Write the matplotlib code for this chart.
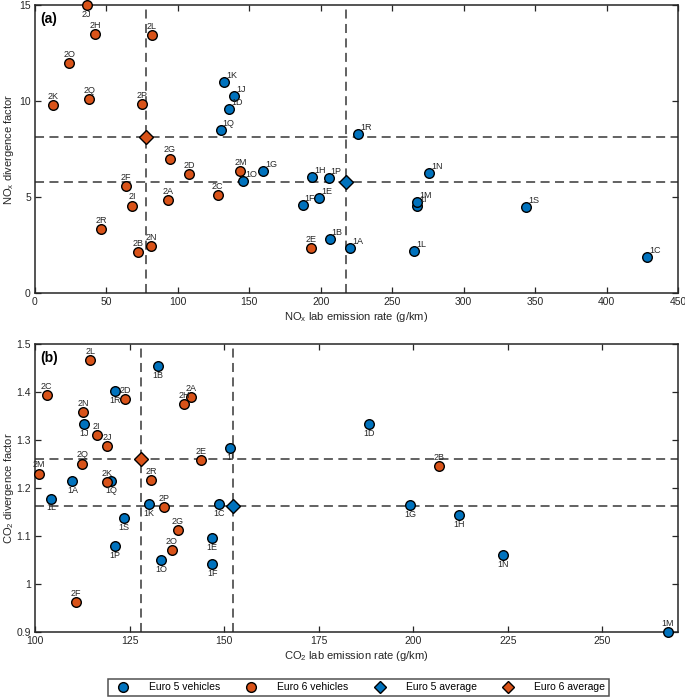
import matplotlib
matplotlib.use("Agg")
import matplotlib.pyplot as plt
from matplotlib.lines import Line2D
from matplotlib.ticker import FuncFormatter

plt.rcParams["font.family"] = ["Liberation Sans", "DejaVu Sans"]
plt.rcParams["mathtext.fontset"] = "custom"
plt.rcParams["mathtext.rm"] = "Liberation Sans"
plt.rcParams["mathtext.it"] = "Liberation Sans:italic"

# ------------------ DATA ------------------

euro5_ids = ["1A", "1B", "1C", "1D", "1E", "1F", "1G", "1H", "1I", "1J",
             "1K", "1L", "1M", "1N", "1O", "1P", "1Q", "1R", "1S"]
euro6_ids = ["2A", "2B", "2C", "2D", "2E", "2F", "2G", "2H", "2I", "2J",
             "2K", "2L", "2M", "2N", "2O", "2P", "2Q", "2R"]

# panel (a): NOx lab emission rate (g/km) and divergence factor
nox_rate_e5 = [220.7, 206.2, 428.3, 136.0, 199.0, 187.3, 159.8, 194.1, 267.6, 139.3,
               132.3, 265.5, 267.6, 276.0, 145.9, 205.5, 129.9, 226.0, 343.6]
nox_div_e5 = [2.34, 2.81, 1.89, 9.60, 4.95, 4.58, 6.37, 6.04, 4.53, 10.28,
              11.01, 2.20, 4.76, 6.23, 5.81, 5.97, 8.47, 8.30, 4.50]
nox_rate_e6 = [93.1, 72.3, 127.8, 107.8, 192.9, 63.5, 94.5, 42.0, 67.9, 36.2,
               12.4, 81.6, 143.7, 81.4, 23.8, 74.7, 38.0, 46.2]
nox_div_e6 = [4.84, 2.14, 5.10, 6.18, 2.32, 5.55, 7.00, 13.47, 4.55, 15.0,
              9.77, 13.42, 6.35, 2.46, 11.98, 9.86, 10.09, 3.35]
nox_avg_e5 = (217.4, 5.80)
nox_avg_e6 = (77.4, 8.14)

# panel (b): CO2 lab emission rate (g/km) and divergence factor
co2_rate_e5 = [109.9, 132.5, 148.7, 188.3, 146.8, 146.9, 199.2, 212.2, 151.5, 113.0,
               130.2, 104.2, 267.3, 223.8, 133.4, 121.2, 120.1, 121.1, 123.5]
co2_div_e5 = [1.215, 1.454, 1.166, 1.334, 1.095, 1.041, 1.164, 1.144, 1.283, 1.334,
              1.167, 1.178, 0.899, 1.061, 1.049, 1.079, 1.215, 1.402, 1.137]
co2_rate_e6 = [141.3, 206.8, 103.1, 123.8, 143.8, 110.9, 137.8, 139.5, 116.3, 119.1,
               119.1, 114.6, 101.1, 112.8, 136.1, 134.1, 112.5, 130.8]
co2_div_e6 = [1.389, 1.246, 1.393, 1.385, 1.258, 0.962, 1.113, 1.374, 1.310, 1.288,
              1.2125, 1.466, 1.230, 1.358, 1.070, 1.160, 1.251, 1.216]
co2_avg_e5 = (152.4, 1.163)
co2_avg_e6 = (127.9, 1.260)

nox_xticks = [0, 50, 100, 150, 200, 250, 300, 350, 400, 450]
nox_yticks = [0, 5, 10, 15]
co2_xticks = [100, 125, 150, 175, 200, 225, 250]
co2_yticks = [0.9, 1.0, 1.1, 1.2, 1.3, 1.4, 1.5]

blue = "#0072BD"
orange = "#D95319"
grey = "#262626"


def draw_panel(ax, x5, y5, x6, y6, avg5, avg6, lab5_off, lab6_off, special=None):
    special = special or {}
    for v in (avg5, avg6):
        ax.axvline(v[0], color="#555555", lw=1.3, ls=(0, (5, 3)), zorder=1)
        ax.axhline(v[1], color="#555555", lw=1.3, ls=(0, (5, 3)), zorder=1)

    ax.scatter(x5, y5, s=48, c=blue, edgecolors="black", linewidths=1.0,
               zorder=3, clip_on=False)
    ax.scatter(x6, y6, s=48, c=orange, edgecolors="black", linewidths=1.0,
               zorder=3, clip_on=False)
    ax.plot(avg5[0], avg5[1], marker="D", ms=7, mfc=blue, mec="black",
            mew=1.0, zorder=4, clip_on=False)
    ax.plot(avg6[0], avg6[1], marker="D", ms=7, mfc=orange, mec="black",
            mew=1.0, zorder=4, clip_on=False)

    for ids, xs, ys, off in ((euro5_ids, x5, y5, lab5_off), (euro6_ids, x6, y6, lab6_off)):
        for name, xv, yv in zip(ids, xs, ys):
            dx, dy, ha, va = special.get(name, off)
            ax.annotate(name, (xv, yv), xytext=(dx, dy), textcoords="offset points",
                        ha=ha, va=va, fontsize=6.5, color=grey, zorder=5,
                        annotation_clip=False)

    ax.tick_params(direction="in", top=True, right=True, length=4, width=0.9,
                   labelsize=7.5, colors=grey, pad=3)
    for sp in ax.spines.values():
        sp.set_linewidth(1.1)
        sp.set_color(grey)
    ax.yaxis.set_label_coords(-0.03, 0.5)


fig = plt.figure(figsize=(6.85, 6.98), dpi=100)

ax_a = fig.add_axes([35 / 685, 1 - 293 / 698, 643 / 685, 288 / 698])
draw_panel(ax_a, nox_rate_e5, nox_div_e5, nox_rate_e6, nox_div_e6,
           nox_avg_e5, nox_avg_e6,
           (1.5, 1.5, "left", "bottom"), (0, 3.0, "center", "bottom"),
           special={"2J": (0, -3.5, "center", "top")})
ax_a.set_xlim(0, 450)
ax_a.set_ylim(0, 15)
ax_a.set_xticks(nox_xticks)
ax_a.set_yticks(nox_yticks)
ax_a.set_xlabel("NO$_\\mathregular{x}$ lab emission rate (g/km)", fontsize=8,
                color=grey, labelpad=2)
ax_a.set_ylabel("NO$_\\mathregular{x}$ divergence factor", fontsize=8,
                color=grey)
ax_a.text(0.008, 0.975, "(a)", transform=ax_a.transAxes, fontsize=10,
          fontweight="bold", ha="left", va="top")

ax_b = fig.add_axes([35 / 685, 1 - 632 / 698, 643 / 685, 288 / 698])
draw_panel(ax_b, co2_rate_e5, co2_div_e5, co2_rate_e6, co2_div_e6,
           co2_avg_e5, co2_avg_e6,
           (0, -3.5, "center", "top"), (0, 3.0, "center", "bottom"),
           special={"1M": (0, 3.0, "center", "bottom")})
ax_b.set_xlim(100, 270)
ax_b.set_ylim(0.9, 1.5)
ax_b.set_xticks(co2_xticks)
ax_b.set_yticks(co2_yticks)
ax_b.yaxis.set_major_formatter(FuncFormatter(lambda v, p: f"{v:g}"))
ax_b.set_xlabel("CO$_\\mathregular{2}$ lab emission rate (g/km)", fontsize=8,
                color=grey, labelpad=2)
ax_b.set_ylabel("CO$_\\mathregular{2}$ divergence factor", fontsize=8,
                color=grey)
ax_b.text(0.008, 0.975, "(b)", transform=ax_b.transAxes, fontsize=10,
          fontweight="bold", ha="left", va="top")

handles = [
    Line2D([], [], ls="none", marker="o", ms=7, mfc=blue, mec="black", mew=1.0),
    Line2D([], [], ls="none", marker="o", ms=7, mfc=orange, mec="black", mew=1.0),
    Line2D([], [], ls="none", marker="D", ms=6, mfc=blue, mec="black", mew=1.0),
    Line2D([], [], ls="none", marker="D", ms=6, mfc=orange, mec="black", mew=1.0),
]
labels = ["Euro 5 vehicles", "Euro 6 vehicles", "Euro 5 average", "Euro 6 average"]
leg = fig.legend(handles, labels, loc="center", ncol=4, fontsize=7.5,
                 bbox_to_anchor=(358.5 / 685, 1 - 687.5 / 698),
                 frameon=True, fancybox=False, edgecolor=grey,
                 handlelength=2.0, handletextpad=1.5, columnspacing=2.0,
                 borderpad=0.35)
leg.get_frame().set_linewidth(1.1)

fig.savefig("out.png", dpi=100)
